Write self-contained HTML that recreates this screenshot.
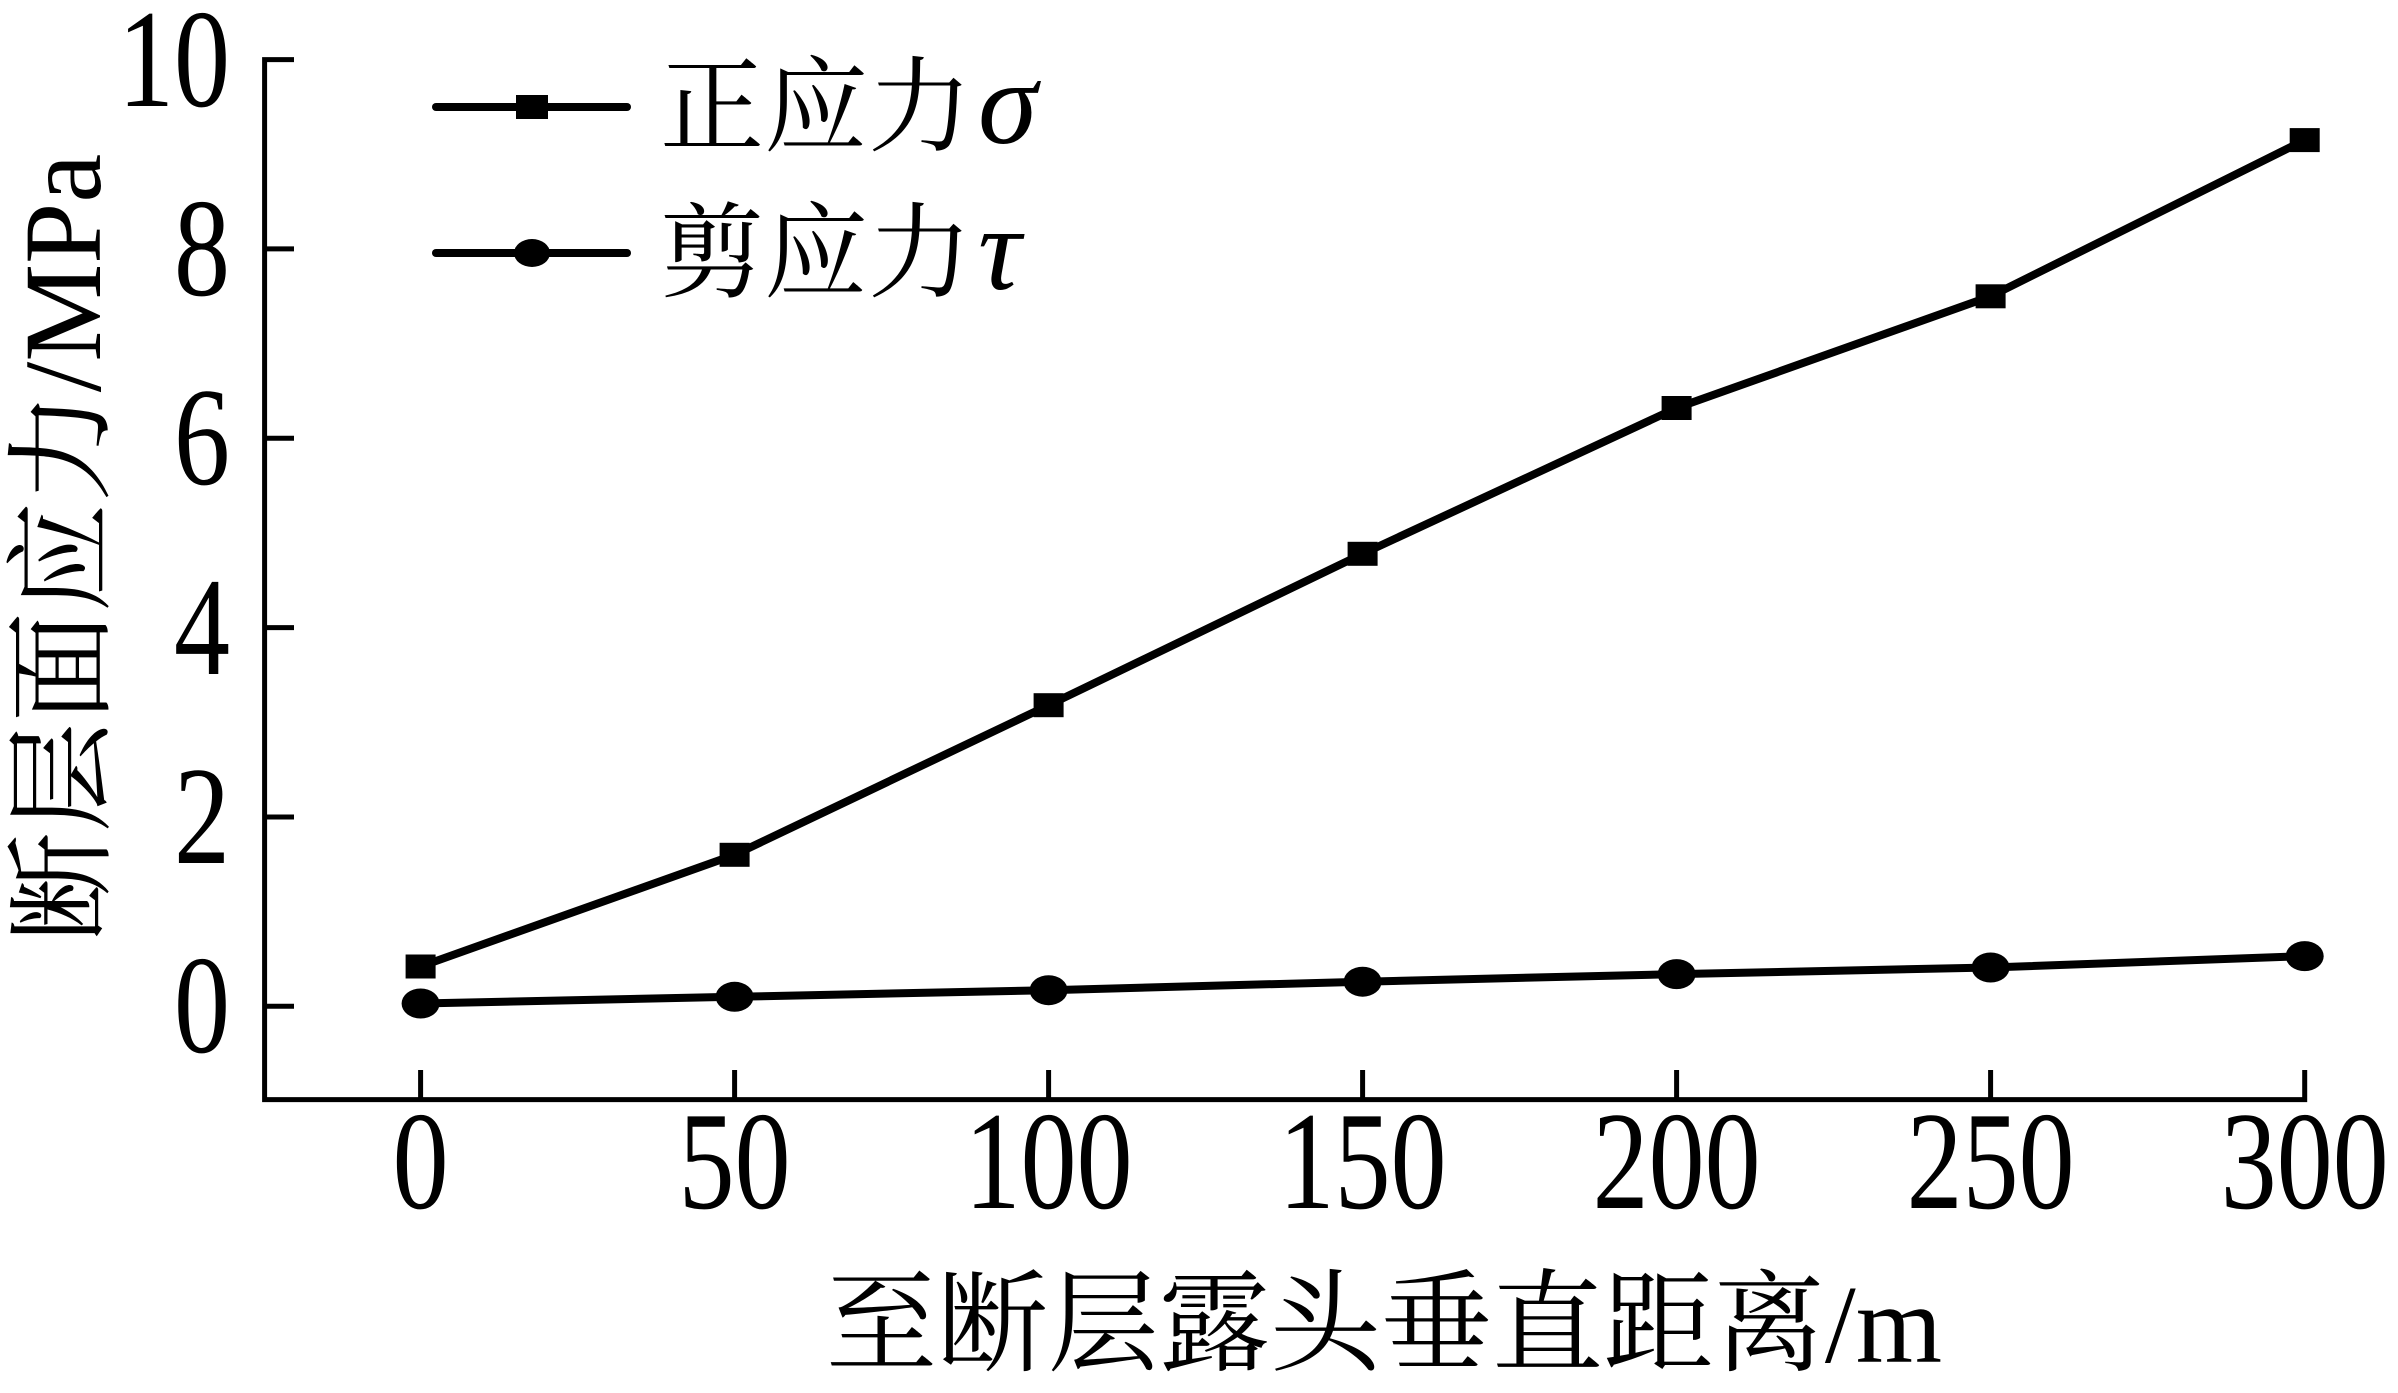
<!DOCTYPE html>
<html><head><meta charset="utf-8"><style>
html,body{margin:0;padding:0;background:#fff;}
svg{display:block;}
text{font-family:"Liberation Serif","Noto Serif CJK SC",serif;fill:#000;}
</style></head><body>
<svg width="2398" height="1393" viewBox="0 0 2398 1393" xmlns="http://www.w3.org/2000/svg">
<g stroke="#000" stroke-width="5" fill="none">
<polyline points="294,59.6 264.6,59.6 264.6,1099.6 2304.7,1099.6 2304.7,1070"/>
<line x1="264.6" y1="248.9" x2="294" y2="248.9"/>
<line x1="264.6" y1="438.3" x2="294" y2="438.3"/>
<line x1="264.6" y1="627.6" x2="294" y2="627.6"/>
<line x1="264.6" y1="817" x2="294" y2="817"/>
<line x1="264.6" y1="1006.3" x2="294" y2="1006.3"/>
<line x1="420.6" y1="1099.6" x2="420.6" y2="1070"/>
<line x1="734.6" y1="1099.6" x2="734.6" y2="1070"/>
<line x1="1048.6" y1="1099.6" x2="1048.6" y2="1070"/>
<line x1="1362.6" y1="1099.6" x2="1362.6" y2="1070"/>
<line x1="1676.6" y1="1099.6" x2="1676.6" y2="1070"/>
<line x1="1990.6" y1="1099.6" x2="1990.6" y2="1070"/>
</g>
<g font-size="112" text-anchor="end">
<text transform="translate(230,106) scale(1,1.25)">10</text>
<text transform="translate(230,295) scale(1,1.25)">8</text>
<text transform="translate(230,484) scale(1,1.25)">6</text>
<text transform="translate(230,674) scale(1,1.25)">4</text>
<text transform="translate(230,863) scale(1,1.25)">2</text>
<text transform="translate(230,1052) scale(1,1.25)">0</text>
</g>
<g font-size="112" text-anchor="middle">
<text transform="translate(420.6,1208) scale(1,1.25)">0</text>
<text transform="translate(734.6,1208) scale(1,1.25)">50</text>
<text transform="translate(1048.6,1208) scale(1,1.25)">100</text>
<text transform="translate(1362.6,1208) scale(1,1.25)">150</text>
<text transform="translate(1676.6,1208) scale(1,1.25)">200</text>
<text transform="translate(1990.6,1208) scale(1,1.25)">250</text>
<text transform="translate(2304.7,1208) scale(1,1.25)">300</text>
</g>
<text x="1384" y="1362" font-size="111" text-anchor="middle">至断层露头垂直距离/m</text>
<text transform="translate(100,548) rotate(-90)" font-size="110" text-anchor="middle">断层面应力/MPa</text>
<!-- sigma -->
<polyline fill="none" stroke="#000" stroke-width="8" points="420.6,966.5 734.6,854.8 1048.6,705.2 1362.6,553.8 1676.6,408 1990.6,296.3 2304.7,140.1"/>
<g fill="#000">
<rect x="405.6" y="954.5" width="30" height="24"/>
<rect x="719.6" y="842.8" width="30" height="24"/>
<rect x="1033.6" y="693.2" width="30" height="24"/>
<rect x="1347.6" y="541.8" width="30" height="24"/>
<rect x="1661.6" y="396" width="30" height="24"/>
<rect x="1975.6" y="284.3" width="30" height="24"/>
<rect x="2289.7" y="128.1" width="30" height="24"/>
</g>
<!-- tau -->
<polyline fill="none" stroke="#000" stroke-width="8" points="420.6,1003.5 734.6,996.8 1048.6,990.2 1362.6,981.7 1676.6,974.1 1990.6,967.5 2304.7,956.1"/>
<g fill="#000">
<ellipse cx="420.6" cy="1003.5" rx="19" ry="15"/>
<ellipse cx="734.6" cy="996.8" rx="19" ry="15"/>
<ellipse cx="1048.6" cy="990.2" rx="19" ry="15"/>
<ellipse cx="1362.6" cy="981.7" rx="19" ry="15"/>
<ellipse cx="1676.6" cy="974.1" rx="19" ry="15"/>
<ellipse cx="1990.6" cy="967.5" rx="19" ry="15"/>
<ellipse cx="2304.7" cy="956.1" rx="19" ry="15"/>
</g>
<!-- legend -->
<line x1="436" y1="107" x2="627" y2="107" stroke="#000" stroke-width="8" stroke-linecap="round"/>
<rect x="516" y="95" width="32" height="24" fill="#000"/>
<line x1="436" y1="253" x2="627" y2="253" stroke="#000" stroke-width="8" stroke-linecap="round"/>
<ellipse cx="532" cy="253" rx="18" ry="14" fill="#000"/>
<text x="660" y="143" font-size="104">正应力<tspan font-style="italic" font-size="120" dx="6">σ</tspan></text>
<text x="660" y="289" font-size="104">剪应力<tspan font-style="italic" font-size="120" dx="6">τ</tspan></text>
</svg>
</body></html>
